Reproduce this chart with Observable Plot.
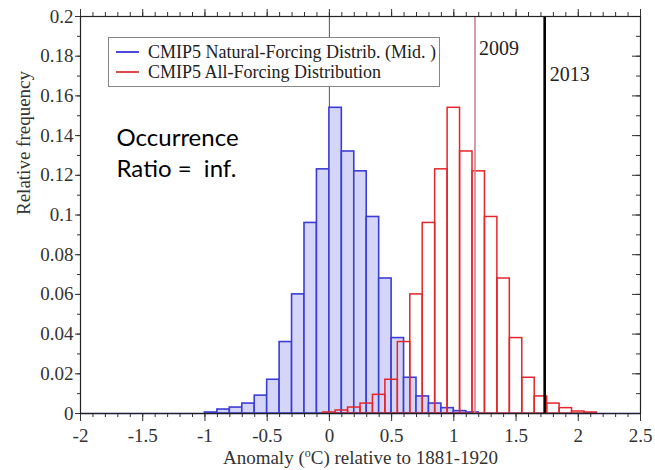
<!DOCTYPE html>
<html><head><meta charset="utf-8">
<script src="https://cdn.jsdelivr.net/npm/d3@7"></script>
<script src="https://cdn.jsdelivr.net/npm/@observablehq/plot@0.6"></script>
<style>
body{margin:0;background:#fff;}
#wrap{position:relative;width:655px;height:470px;overflow:hidden;}
.legend{position:absolute;left:108px;top:37px;width:330px;height:48px;border:1px solid #868686;background:#fff;font-family:"Liberation Serif","Times New Roman",serif;font-size:18px;color:#222;}
.legend .row{position:absolute;left:0;height:20px;width:100%;}
.legend .sw{position:absolute;left:7px;top:9px;width:23px;height:2px;}
.legend .lab{position:absolute;left:39px;top:0;line-height:20px;white-space:nowrap;}
</style></head>
<body><div id="wrap"></div>
<script>
const binWidth = 0.1;
// CMIP5 natural-forcing histogram (bin left edges, relative frequency)
const naturalBinStart = [-1.0,-0.9,-0.8,-0.7,-0.6,-0.5,-0.4,-0.3,-0.2,-0.1,0.0,0.1,0.2,0.3,0.4,0.5,0.6,0.7,0.8,0.9,1.0,1.1];
const naturalFreq     = [0.0005,0.002,0.003,0.005,0.009,0.017,0.036,0.060,0.096,0.123,0.154,0.132,0.122,0.099,0.068,0.038,0.018,0.0086,0.005,0.0027,0.0012,0.0005];
// CMIP5 all-forcing histogram
const allBinStart = [-0.05,0.05,0.15,0.25,0.35,0.45,0.55,0.65,0.75,0.85,0.95,1.05,1.15,1.25,1.35,1.45,1.55,1.65,1.75,1.85,1.95,2.05];
const allFreq     = [0.0005,0.0015,0.003,0.005,0.0094,0.017,0.036,0.060,0.096,0.123,0.154,0.132,0.122,0.099,0.068,0.038,0.018,0.0086,0.005,0.0027,0.001,0.0005];

const legendLabels = ["CMIP5 Natural-Forcing Distrib. (Mid. )", "CMIP5 All-Forcing Distribution"];
const legendColors = ["#4a4ad8", "#e0484c"];
const eventYears = ["2009", "2013"];
const eventAnomaly = [1.17, 1.73];
const xTickValues = [-2,-1.5,-1,-0.5,0,0.5,1,1.5,2,2.5];
const xTickLabels = ["-2","-1.5","-1","-0.5","0","0.5","1","1.5","2","2.5"];
const yTickValues = [0,0.02,0.04,0.06,0.08,0.1,0.12,0.14,0.16,0.18,0.2];
const yTickLabels = ["0","0.02","0.04","0.06","0.08","0.1","0.12","0.14","0.16","0.18","0.2"];
const xMinorTicks = d3.range(-20, 26).map(i => i / 10);
const yMinorTicks = d3.range(0, 21).map(i => i / 100);
const annotation = "Occurrence\nRatio =\u00a0 inf.";
const xTitle = "Anomaly (oC) relative to 1881-1920";
const yTitle = "Relative frequency";

const natural = naturalBinStart.map((s, i) => ({x1: s, x2: s + binWidth, f: naturalFreq[i]}));
const allF = allBinStart.map((s, i) => ({x1: s, x2: s + binWidth, f: allFreq[i]}));

const W = 655, H = 470, mL = 80, mR = 15, mT = 16, mB = 57;
const xDom = [-2, 2.5], yDom = [0, 0.2];
const xPerPx = (xDom[1] - xDom[0]) / (W - mL - mR);
const yPerPx = (yDom[1] - yDom[0]) / (H - mT - mB);
const serif = "Liberation Serif, Times New Roman, serif";
const xFmt = d => xTickLabels[xTickValues.findIndex(v => Math.abs(v - d) < 1e-9)];
const yFmt = d => yTickLabels[yTickValues.findIndex(v => Math.abs(v - d) < 1e-9)];
const tk = {stroke: "#333", strokeWidth: 1};

const plot = Plot.plot({
  width: W, height: H,
  marginLeft: mL, marginRight: mR, marginTop: mT, marginBottom: mB,
  x: {domain: xDom, axis: null},
  y: {domain: yDom, axis: null},
  style: {fontFamily: serif, fontSize: "18px", color: "#222", background: "#fff"},
  marks: [
    Plot.ruleX([0], {stroke: "#555", strokeWidth: 1}),
    Plot.rect(natural, {x1: "x1", x2: "x2", y1: 0, y2: "f", fill: "#d5d5f8", stroke: "#3c3cd6", strokeWidth: 1.6}),
    Plot.rect(allF, {x1: "x1", x2: "x2", y1: 0, y2: "f", fill: "none", stroke: "#e3262b", strokeWidth: 1.5}),
    Plot.ruleY([0], {stroke: "#5050a8", strokeWidth: 1.5}),
    Plot.ruleX([eventAnomaly[0]], {stroke: "#c98296", strokeWidth: 1.6}),
    Plot.ruleX([eventAnomaly[1]], {stroke: "#000", strokeWidth: 2.6}),
    Plot.text([eventYears[0]], {x: eventAnomaly[0], frameAnchor: "top", dx: 4, dy: 24, lineAnchor: "top", textAnchor: "start", fontSize: 20, fontFamily: serif, fill: "#222"}),
    Plot.text([eventYears[1]], {x: eventAnomaly[1], frameAnchor: "top", dx: 5, dy: 50, lineAnchor: "top", textAnchor: "start", fontSize: 20, fontFamily: serif, fill: "#222"}),
    Plot.text([annotation], {frameAnchor: "top-left", dx: 36, dy: 107, lineAnchor: "top", textAnchor: "start", fontSize: 24, fontFamily: "Lato, Open Sans, sans-serif", lineHeight: 1.3, fill: "#000"}),
    // labelled major axes
    Plot.axisX(xTickValues, {anchor: "bottom", tickSize: 8, tickPadding: 7, tickFormat: xFmt, fontSize: 19, fontFamily: serif, label: null, stroke: "#333", fill: "#333"}),
    Plot.axisY(yTickValues, {anchor: "left", tickSize: 5, tickPadding: 2, tickFormat: yFmt, fontSize: 19, fontFamily: serif, label: null, stroke: "#333", fill: "#333"}),
    // unlabelled minor and mirror ticks
    Plot.ruleX(xMinorTicks, {x: d => d, y1: yDom[0], y2: yDom[0] - 4 * yPerPx, ...tk}),
    Plot.ruleX(xTickValues, {x: d => d, y1: yDom[1], y2: yDom[1] + 7 * yPerPx, ...tk}),
    Plot.ruleX(xMinorTicks, {x: d => d, y1: yDom[1], y2: yDom[1] + 4 * yPerPx, ...tk}),
    Plot.ruleY(yMinorTicks, {y: d => d, x1: xDom[0], x2: xDom[0] - 3 * xPerPx, ...tk}),
    Plot.ruleY(yTickValues, {y: d => d, x1: xDom[1], x2: xDom[1] - 8 * xPerPx, ...tk}),
    Plot.ruleY(yMinorTicks, {y: d => d, x1: xDom[1], x2: xDom[1] - 4 * xPerPx, ...tk}),
    Plot.frame({stroke: "#222", strokeWidth: 1.2}),
    Plot.text([yTitle], {frameAnchor: "left", dx: -57, rotate: -90, fontSize: 19, fontFamily: serif, fill: "#333"}),
    Plot.text([xTitle], {frameAnchor: "bottom", dy: 50, fontSize: 19, fontFamily: serif, fill: "#333"})
  ]
});

const wrap = document.getElementById("wrap");
wrap.appendChild(plot);

// superscript degree "o" in x title
const ns = "http://www.w3.org/2000/svg";
const t = [...plot.querySelectorAll("text")].find(e => e.textContent === xTitle);
if (t) {
  t.textContent = "";
  const a = document.createElementNS(ns, "tspan"); a.textContent = "Anomaly (";
  const b = document.createElementNS(ns, "tspan"); b.textContent = "o"; b.setAttribute("dy", "-7"); b.setAttribute("font-size", "12");
  const c = document.createElementNS(ns, "tspan"); c.textContent = "C) relative to 1881-1920"; c.setAttribute("dy", "7");
  t.append(a, b, c);
}

// legend overlay
const lg = document.createElement("div");
lg.className = "legend";
legendLabels.forEach((lab, i) => {
  const row = document.createElement("div");
  row.className = "row";
  row.style.top = (4 + i * 20) + "px";
  const sw = document.createElement("div"); sw.className = "sw"; sw.style.background = legendColors[i];
  const tx = document.createElement("div"); tx.className = "lab"; tx.textContent = lab;
  row.append(sw, tx);
  lg.appendChild(row);
});
wrap.appendChild(lg);
</script>
</body></html>
